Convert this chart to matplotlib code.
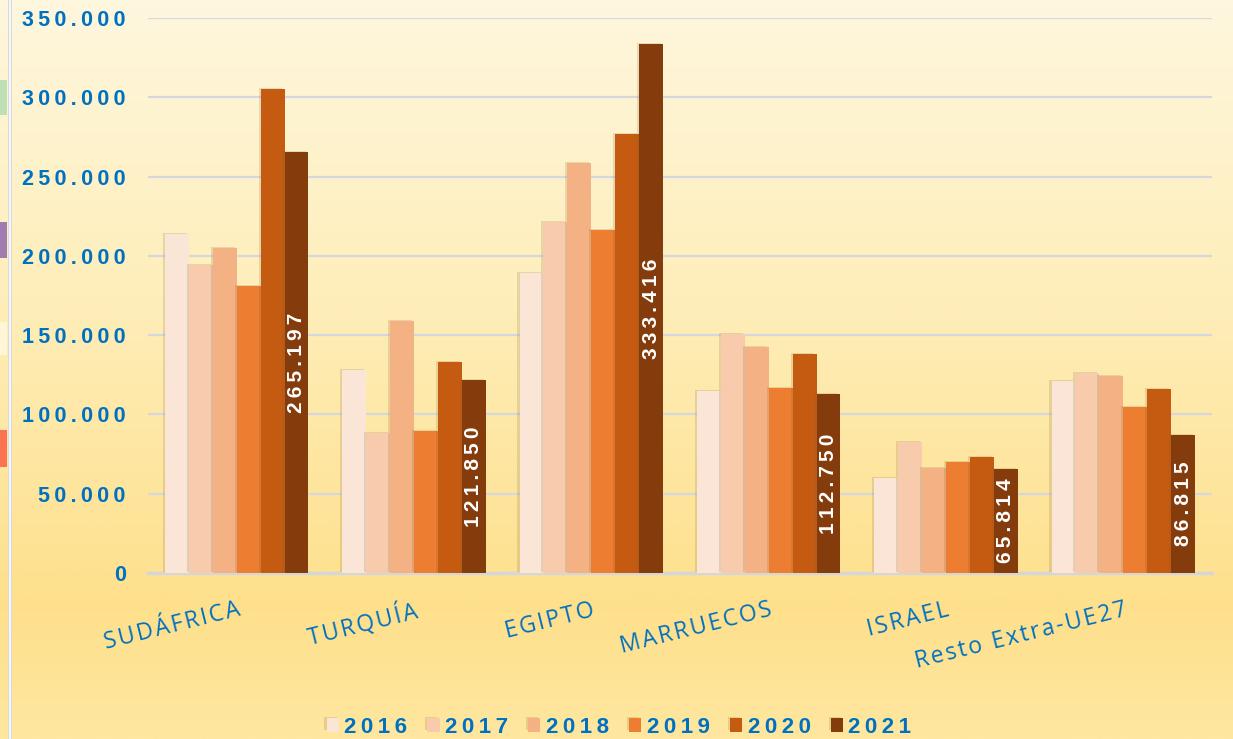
import numpy as np
import matplotlib
matplotlib.use("Agg")
import matplotlib.pyplot as plt
import matplotlib.patheffects as pe
from matplotlib.colors import LinearSegmentedColormap
from matplotlib.patches import Rectangle

countries = ["SUDÁFRICA", "TURQUÍA", "EGIPTO", "MARRUECOS", "ISRAEL", "Resto Extra-UE27"]
years = ["2016", "2017", "2018", "2019", "2020", "2021"]

v2016 = [213800, 128000, 189200, 114800, 59900, 121100]
v2017 = [194200, 88300, 221400, 150700, 82600, 126100]
v2018 = [205000, 158900, 258600, 142500, 66200, 124200]
v2019 = [181000, 89500, 216300, 116700, 70000, 104700]
v2020 = [305200, 133000, 276800, 138100, 73200, 116000]
v2021 = [265197, 121850, 333416, 112750, 65814, 86815]
series = [v2016, v2017, v2018, v2019, v2020, v2021]

colors = ["#FBE5D6", "#F8CBAD", "#F4B183", "#ED7D31", "#C55A11", "#843C0C"]
blue = "#0070C0"
fam = ["Liberation Sans", "DejaVu Sans"]
TS = "\u2009"  # thin space, used as letter spacing
HS = "\u200A"  # hair space


def spaced(s, sep=TS):
    return sep.join(s)


def thousands(v):
    return spaced(f"{int(round(v)):,}".replace(",", "."))


fig = plt.figure(figsize=(12.33, 7.39), dpi=100)

# background gradient
bg = fig.add_axes([0, 0, 1, 1], zorder=-10)
cmap = LinearSegmentedColormap.from_list(
    "bg", [(0.0, "#FFF7DE"), (0.4, "#FEEEBA"), (0.82, "#FEE08C"), (1.0, "#FFE7A0")]
)
bg.imshow(np.linspace(0, 1, 256).reshape(-1, 1), aspect="auto", cmap=cmap,
          extent=[0, 1, 0, 1], origin="upper")
bg.set_axis_off()

# screenshot edge bits on the left
fig.patches.append(Rectangle((8 / 1233, 0), 4 / 1233, 1, transform=fig.transFigure,
                             facecolor="#DADADA", edgecolor="none", zorder=-5))
fig.patches.append(Rectangle((9.3 / 1233, 0), 1.4 / 1233, 1, transform=fig.transFigure,
                             facecolor="#F6F6F6", edgecolor="none", zorder=-4))
for y0, y1, c in [(80, 115, "#BFE0B4"), (222, 258, "#A07CB0"), (322, 355, "#FFF6D8"), (430, 467, "#FA7452")]:
    fig.patches.append(Rectangle((0, 1 - y1 / 739), 7 / 1233, (y1 - y0) / 739,
                                 transform=fig.transFigure, facecolor=c, edgecolor="none", zorder=-5))

ax = fig.add_axes([148 / 1233, 1 - 573 / 739, (1212 - 148) / 1233, (573 - 18) / 739])
ax.patch.set_alpha(0)

x = np.arange(len(countries))
w = 0.135
shadow = [pe.SimplePatchShadow(offset=(-1.5, 0.8), shadow_rgbFace="#7a6530", alpha=0.18), pe.Normal()]
for i, (vals, col) in enumerate(zip(series, colors)):
    bars = ax.bar(x + (i - 2.5) * w, vals, width=w, color=col, edgecolor="none",
                  label=spaced(years[i]), zorder=3)
    for b in bars:
        b.set_path_effects(shadow)

# value labels on the 2021 bars
for xi, v in zip(x + 2.5 * w, v2021):
    ax.text(xi, v / 2, thousands(v), rotation=90, ha="center", va="center",
            color="white", fontsize=15, fontweight="bold", family=fam, zorder=5)

ax.set_xlim(-0.5, 5.5)
ax.set_ylim(0, 350000)
ax.set_yticks(np.arange(0, 350001, 50000))
ax.set_yticklabels([thousands(t) for t in np.arange(0, 350001, 50000)],
                   color=blue, fontsize=15.5, fontweight="bold", family=fam)
ax.tick_params(axis="y", length=0, pad=16)
ax.grid(axis="y", color="#D4D7DE", linewidth=1.6)
ax.set_axisbelow(True)

ax.set_xticks(x)
ax.set_xticklabels([spaced(c, HS) for c in countries], rotation=14, ha="right",
                   rotation_mode="anchor", color=blue, fontsize=16.5,
                   family=["Open Sans", "DejaVu Sans"])
ax.tick_params(axis="x", length=0, pad=18)

for s in ["top", "right", "left"]:
    ax.spines[s].set_visible(False)
ax.spines["bottom"].set_color("#D6D6D6")
ax.spines["bottom"].set_linewidth(2.5)

fig.legend(loc="center", bbox_to_anchor=(0.502, 0.016), ncol=6, frameon=False,
           handlelength=0.55, handleheight=0.55, handletextpad=0.25, columnspacing=0.9,
           prop={"family": fam, "weight": "bold", "size": 16}, labelcolor=blue)

fig.savefig("out.png", dpi=100)
